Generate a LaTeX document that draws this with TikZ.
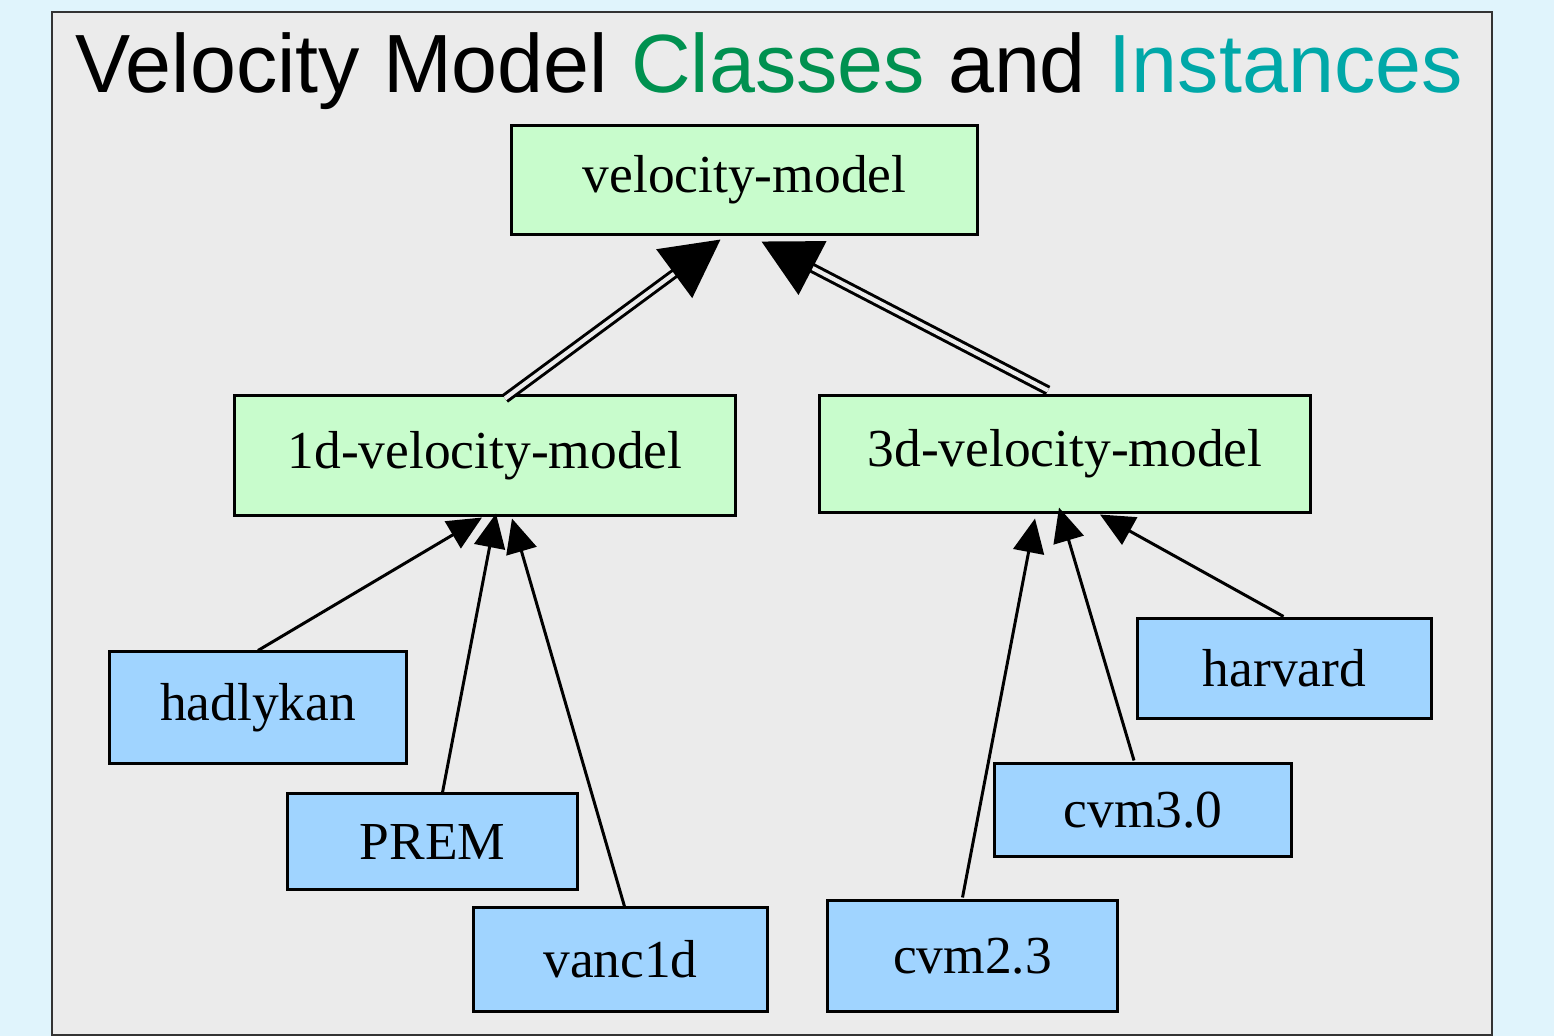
\documentclass[tikz,border=0pt]{standalone}
\usepackage{fontspec}
\setmainfont{Liberation Serif}
\newfontfamily\headfont{Liberation Sans}
\usepackage{xcolor}
\usepackage{tikz}
\usetikzlibrary{calc,arrows.meta}
\definecolor{pagebg}{HTML}{E0F4FC}
\definecolor{panel}{HTML}{EBEBEB}
\definecolor{clsfill}{HTML}{C8FCCC}
\definecolor{instfill}{HTML}{A0D4FF}
\definecolor{clsgreen}{HTML}{009150}
\definecolor{insteal}{HTML}{00A8A8}
\tikzset{
  cls/.style={draw=black, fill=clsfill, line width=0.85pt, inner sep=0pt,
    font=\fontsize{15.2}{18}\selectfont},
  inst/.style={draw=black, fill=instfill, line width=0.85pt, inner sep=0pt,
    font=\fontsize{15.2}{18}\selectfont},
  subedge/.style={draw=black, line width=0.85pt, double=panel, double distance=1.2pt,
    -{Triangle[length=0.575cm, width=0.6cm]}},
  instedge/.style={draw=black, line width=0.85pt,
    -{Triangle[length=0.34cm, width=0.31cm]}},
  ttl/.style={anchor=base, inner sep=0pt, font=\headfont\fontsize{23.5}{28}\selectfont}
}

\begin{document}
\begin{tikzpicture}[x=0.01cm, y=-0.01cm]
  \useasboundingbox (0,0) rectangle (1554,1036);
  \fill[pagebg] (0,0) rectangle (1554,1036);
  \draw[fill=panel, draw=black!80, line width=0.6pt] (52,12) rectangle (1492,1035);

  \node[ttl] (title) at (769,92)
    {Velocity Model {\color{clsgreen}Classes} and {\color{insteal}Instances}};

  % classes
  \node[cls, minimum width=4.65cm, minimum height=1.08cm] (vm) at (744.5,180) {velocity-model};
  \node[cls, minimum width=5.0cm, minimum height=1.19cm] (d1) at (485,455.5) {1d-velocity-model};
  \node[cls, minimum width=4.9cm, minimum height=1.16cm] (d3) at (1065,454) {3d-velocity-model};

  % instances
  \node[inst, minimum width=2.96cm, minimum height=1.11cm] (hadlykan) at (258,707.5) {hadlykan};
  \node[inst, minimum width=2.89cm, minimum height=0.95cm] (prem) at (432.5,841.5) {PREM};
  \node[inst, minimum width=2.93cm, minimum height=1.03cm] (vanc) at (620.5,959.5) {vanc1d};
  \node[inst, minimum width=2.89cm, minimum height=1.10cm] (cvmtwo) at (972.5,956) {cvm2.3};
  \node[inst, minimum width=2.96cm, minimum height=0.92cm] (cvmthree) at (1143,810) {cvm3.0};
  \node[inst, minimum width=2.93cm, minimum height=0.99cm] (harvard) at (1284.5,668.5) {harvard};

  \draw[subedge] ($(d1.north)+(20,4)$) -- ($(vm.south)+(-24,4)$);
  \draw[subedge] ($(d3.north)+(-17,-4)$) -- ($(vm.south)+(17,6)$);

  \draw[instedge] (hadlykan.north) -- ($(d1.south)+(-3,1)$);
  \draw[instedge] ($(prem.north)+(10,0)$) -- ($(d1.south)+(11,-3)$);
  \draw[instedge] ($(vanc.north)+(4,0)$) -- ($(d1.south)+(27,2)$);
  \draw[instedge] ($(cvmtwo.north)+(-10,-2)$) -- ($(d3.south)+(-30,5)$);
  \draw[instedge] ($(cvmthree.north)+(-9,-2)$) -- ($(d3.south)+(-6,-6)$);
  \draw[instedge] ($(harvard.north)+(-1,-1)$) -- ($(d3.south)+(35,1)$);
\end{tikzpicture}
\end{document}
